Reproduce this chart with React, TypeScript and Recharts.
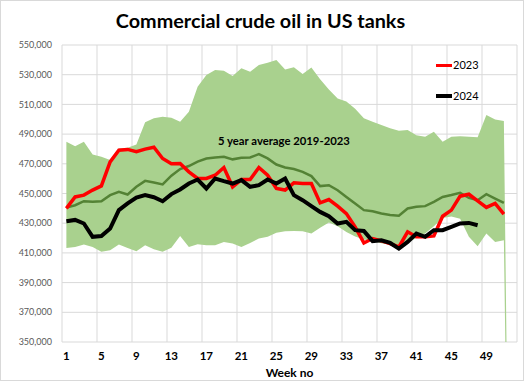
import React from 'react';
import { ComposedChart, Area, Line, XAxis, YAxis, CartesianGrid } from 'recharts';

const weeks = [1,2,3,4,5,6,7,8,9,10,11,12,13,14,15,16,17,18,19,20,21,22,23,24,25,26,27,28,29,30,31,32,33,34,35,36,37,38,39,40,41,42,43,44,45,46,47,48,49,50,51,52];

const xTicks = [1,5,9,13,17,21,25,29,33,37,41,45,49];
const gridTicks = [0.5,4.5,8.5,12.5,16.5,20.5,24.5,28.5,32.5,36.5,40.5,44.5,48.5,52.5];
const yTicks = [350000,370000,390000,410000,430000,450000,470000,490000,510000,530000,550000];

const series2023 = [440000,447700,448900,452300,455100,471300,479200,479700,478100,479900,481200,473600,470000,470200,464600,460100,460100,462300,467500,454500,459400,459400,467500,462300,453400,452300,457200,456700,456700,443700,445900,441500,436500,427500,416700,419700,418100,416300,414000,424200,420800,420800,421400,434700,438800,448200,449500,445000,440600,443300,436100];

const series2024 = [431300,432200,429800,420800,421400,426400,438800,443300,447300,448900,447500,444800,449600,452700,456700,459400,453400,460100,458300,456700,459000,454500,455600,459400,456700,460100,448900,445500,441500,437600,434700,429800,430900,425300,424800,417900,418500,416700,412900,417400,423000,420800,425300,425300,427500,429800,430200,428600];

const avg5y = [440500,442100,444800,444400,444800,448900,451100,449300,454500,458500,457400,456100,462000,466500,468500,471500,473600,474300,474700,473000,474000,474300,476500,473600,469500,467500,466500,464600,461700,455000,455600,452200,447700,443300,438800,438100,436500,435500,435000,439900,441000,441500,444400,447700,449000,450500,447000,445500,449500,446600,443700];

const bandHigh = [484800,481900,484800,476300,474700,472500,480300,480800,483000,497900,500600,501700,501000,498300,505000,521900,529800,533100,532700,529100,534300,532000,536500,538100,539900,533500,535000,530500,534900,527000,520000,514000,512000,507000,500600,498300,496100,494000,492300,492700,489300,488200,491500,484800,488200,488600,488200,487800,502800,499900,498900,0];

const bandLow = [413300,414000,415600,414000,410700,411800,415600,413300,411100,415200,412500,410700,413500,421400,414000,415800,415200,415200,417400,416300,414000,416700,419700,420800,423500,424500,424800,424500,423000,427000,430500,428000,424000,421000,419000,418000,416500,415500,413000,417000,420000,423000,428000,433500,434500,433000,420800,414500,423000,417400,418600,0];

const data = weeks.map((w, i) => ({
  week: w,
  band: [bandLow[i], bandHigh[i]],
  avg: avg5y[i] ?? null,
  y2023: series2023[i] ?? null,
  y2024: series2024[i] ?? null,
}));

const FONT = 'Lato, "Open Sans", sans-serif';

export default function App() {
  return (
    <div style={{ position: 'absolute', left: 0, top: 0, width: 524, height: 381, background: '#fff', fontFamily: FONT }}>
      <div style={{ position: 'absolute', left: 0, top: 0, width: 524, height: 381, border: '1px solid #d9d9d9', boxSizing: 'border-box', pointerEvents: 'none' }} />
      <ComposedChart width={524} height={381} data={data} margin={{ top: 45, right: 7, bottom: 0, left: 0 }}>
        <CartesianGrid xAxisId="grid" stroke="#d9d9d9" strokeWidth={1} />
        <XAxis
          xAxisId="grid"
          type="number"
          dataKey="week"
          domain={[0.5, 52.5]}
          ticks={gridTicks}
          height={0}
          tickFormatter={() => ''}
          tickSize={4}
          axisLine={{ stroke: '#d9d9d9' }}
          tickLine={{ stroke: '#d9d9d9' }}
        />
        <XAxis
          xAxisId="main"
          type="number"
          dataKey="week"
          domain={[0.5, 52.5]}
          ticks={xTicks}
          interval={0}
          height={39}
          axisLine={false}
          tickLine={false}
          tickSize={0}
          tickMargin={10}
          tick={{ fontSize: 11.5, fontWeight: 700, fill: '#000', fontFamily: FONT }}
          label={{ value: 'Week no', position: 'insideBottom', offset: 4, style: { fontSize: 12, fontWeight: 700, fill: '#000', fontFamily: FONT } }}
        />
        <YAxis
          type="number"
          domain={[350000, 550000]}
          ticks={yTicks}
          allowDataOverflow
          width={62}
          axisLine={false}
          tickLine={false}
          tickSize={8}
          tickMargin={2}
          tickFormatter={(v: number) => v.toLocaleString('en-US')}
          tick={{ fontSize: 9, fill: '#595959', fontFamily: FONT }}
        />
        <Area xAxisId="main" type="linear" dataKey="band" stroke="none" fill="#a9d18e" fillOpacity={1} isAnimationActive={false} />
        <Line xAxisId="main" type="linear" dataKey="avg" stroke="#548235" strokeWidth={2.5} dot={false} isAnimationActive={false} />
        <Line xAxisId="main" type="linear" dataKey="y2023" stroke="#ff0000" strokeWidth={3.5} dot={false} isAnimationActive={false} />
        <Line xAxisId="main" type="linear" dataKey="y2024" stroke="#000000" strokeWidth={4} dot={false} isAnimationActive={false} />
      </ComposedChart>
      <div style={{ position: 'absolute', left: 0, width: 521, top: 7, textAlign: 'center', fontSize: 19.8, fontWeight: 700, color: '#000', lineHeight: '26px', whiteSpace: 'nowrap' }}>
        Commercial crude oil in US tanks
      </div>
      <div style={{ position: 'absolute', left: 218, top: 133, fontSize: 11.3, fontWeight: 700, color: '#000', lineHeight: '16px', whiteSpace: 'nowrap' }}>
        5 year average 2019-2023
      </div>
      <div style={{ position: 'absolute', left: 436, top: 57, display: 'flex', alignItems: 'center', fontSize: 11, color: '#000', lineHeight: '16px' }}>
        <span style={{ display: 'inline-block', width: 16, height: 3, background: '#ff0000', marginRight: 1 }} />2023
      </div>
      <div style={{ position: 'absolute', left: 436, top: 88, display: 'flex', alignItems: 'center', fontSize: 11, color: '#000', lineHeight: '16px' }}>
        <span style={{ display: 'inline-block', width: 16, height: 4, background: '#000', marginRight: 1 }} />2024
      </div>
    </div>
  );
}
